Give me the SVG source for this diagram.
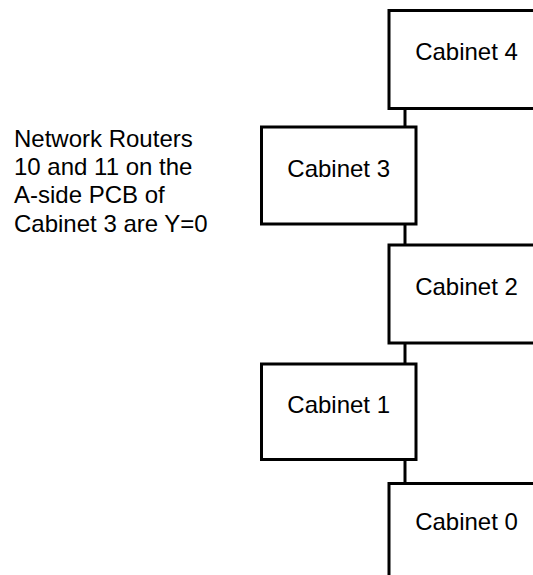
<svg xmlns="http://www.w3.org/2000/svg" width="533" height="575" viewBox="0 0 533 575">
<style>
.box{fill:#fff;stroke:#000;stroke-width:3}
.lbl{font-family:"Liberation Sans",Arial,sans-serif;font-size:24px;fill:#000;text-anchor:middle}
.note{font-family:"Liberation Sans",Arial,sans-serif;font-size:24px;fill:#000}
.conn{stroke:#000;stroke-width:3;fill:none}
</style>
<rect width="533" height="575" fill="#fff"/>
<g id="connectors">
<line class="conn" x1="405" y1="108.5" x2="405" y2="127"/>
<line class="conn" x1="405" y1="224" x2="405" y2="245"/>
<line class="conn" x1="405" y1="343" x2="405" y2="364"/>
<line class="conn" x1="405" y1="459.5" x2="405" y2="483.5"/>
</g>
<g id="cabinet4"><rect class="box" x="389" y="10.5" width="155" height="98"/><text class="lbl" x="466.5" y="59.5">Cabinet 4</text></g>
<g id="cabinet3"><rect class="box" x="261.5" y="127" width="154.5" height="97"/><text class="lbl" x="338.7" y="177">Cabinet 3</text></g>
<g id="cabinet2"><rect class="box" x="389" y="245" width="155" height="98"/><text class="lbl" x="466.5" y="295">Cabinet 2</text></g>
<g id="cabinet1"><rect class="box" x="261.5" y="364" width="154.5" height="95.5"/><text class="lbl" x="338.7" y="413">Cabinet 1</text></g>
<g id="cabinet0"><rect class="box" x="389" y="483.5" width="155" height="98"/><text class="lbl" x="466.5" y="530">Cabinet 0</text></g>
<g id="note">
<text class="note" x="14" y="146.5">Network Routers</text>
<text class="note" x="14" y="175">10 and 11 on the</text>
<text class="note" x="14" y="203.3">A-side PCB of</text>
<text class="note" x="14" y="231.7">Cabinet 3 are Y=0</text>
</g>
</svg>
